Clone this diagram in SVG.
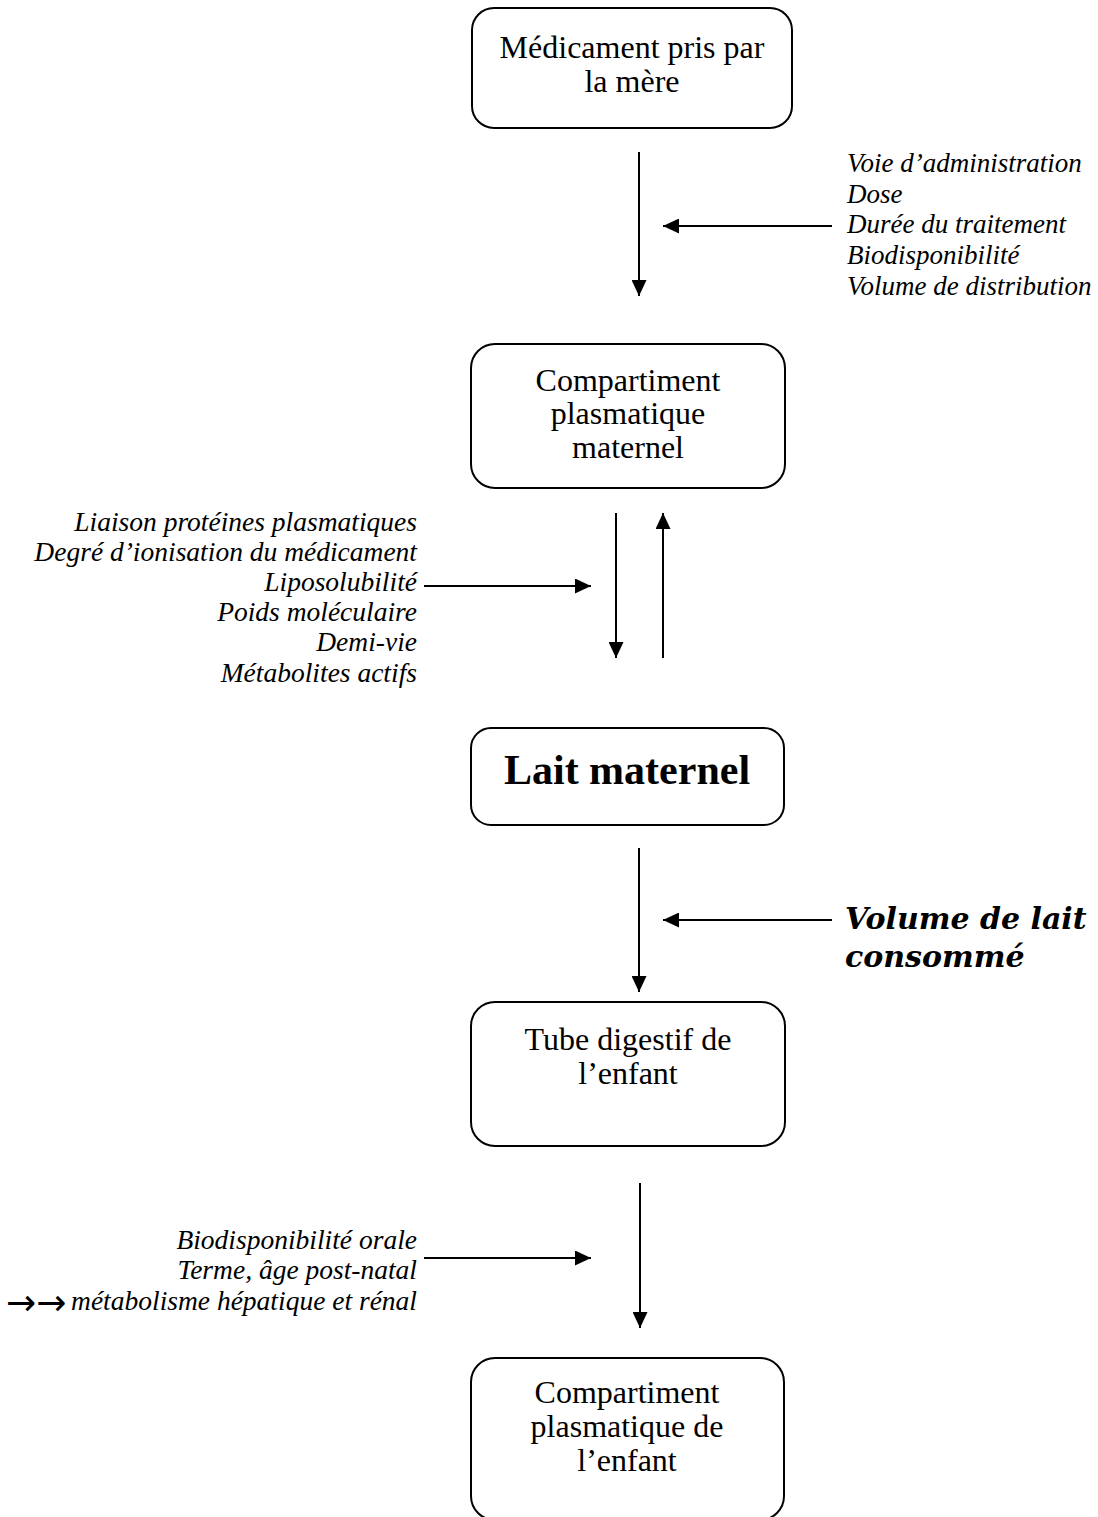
<svg xmlns="http://www.w3.org/2000/svg" width="1098" height="1517" viewBox="0 0 1098 1517">
<defs>
<style>
.box{fill:#fff;stroke:#000;stroke-width:2}
.bt{font-family:"Liberation Serif","Times New Roman",serif;font-size:32px;fill:#000;text-anchor:middle}
.bold{font-weight:bold;font-size:42px}
.it{font-family:"Liberation Serif","Times New Roman",serif;font-style:italic;font-size:27.5px;fill:#000}
.rt{font-size:27px}
.end{text-anchor:end}
.sym{font-family:"DejaVu Sans",sans-serif;font-size:36px;fill:#000}
.big{font-family:"DejaVu Serif",serif;font-style:italic;font-weight:bold;font-size:30px;fill:#000}
.ar{stroke:#000;stroke-width:2;fill:none;marker-end:url(#ah)}
</style>
<marker id="ah" markerUnits="userSpaceOnUse" markerWidth="17" markerHeight="15" refX="16" refY="7.5" orient="auto">
<path d="M0,0 L16,7.5 L0,15 Z" fill="#000"/>
</marker>
</defs>
<rect width="1098" height="1517" fill="#fff"/>

<g id="n1">
<rect class="box" x="472" y="8" width="320" height="120" rx="22"/>
<text class="bt" x="632" y="58">Médicament pris par</text>
<text class="bt" x="632" y="92">la mère</text>
</g>

<g id="n2">
<rect class="box" x="471" y="344" width="314" height="144" rx="24"/>
<text class="bt" x="628" y="391">Compartiment</text>
<text class="bt" x="628" y="424">plasmatique</text>
<text class="bt" x="628" y="458">maternel</text>
</g>

<g id="n3">
<rect class="box" x="471" y="728" width="313" height="97" rx="20"/>
<text class="bt bold" x="627" y="784">Lait maternel</text>
</g>

<g id="n4">
<rect class="box" x="471" y="1002" width="314" height="144" rx="24"/>
<text class="bt" x="628" y="1050">Tube digestif de</text>
<text class="bt" x="628" y="1084">l’enfant</text>
</g>

<g id="n5">
<rect class="box" x="471" y="1358" width="313" height="162" rx="24"/>
<text class="bt" x="627" y="1403">Compartiment</text>
<text class="bt" x="627" y="1437">plasmatique de</text>
<text class="bt" x="627" y="1471">l’enfant</text>
</g>

<g id="lbl-top">
<text class="it rt" x="847" y="172">Voie d’administration</text>
<text class="it rt" x="847" y="203">Dose</text>
<text class="it rt" x="847" y="233">Durée du traitement</text>
<text class="it rt" x="847" y="264">Biodisponibilité</text>
<text class="it rt" x="847" y="295">Volume de distribution</text>
</g>

<g id="lbl-mid">
<text class="it end" x="417" y="531">Liaison protéines plasmatiques</text>
<text class="it end" x="417" y="561">Degré d’ionisation du médicament</text>
<text class="it end" x="417" y="591">Liposolubilité</text>
<text class="it end" x="417" y="621">Poids moléculaire</text>
<text class="it end" x="417" y="651">Demi-vie</text>
<text class="it end" x="417" y="682">Métabolites actifs</text>
</g>

<g id="lbl-lait">
<text class="big" x="845" y="929">Volume de lait</text>
<text class="big" x="845" y="967">consommé</text>
</g>

<g id="lbl-bottom">
<text class="it end" x="417" y="1249">Biodisponibilité orale</text>
<text class="it end" x="417" y="1279">Terme, âge post-natal</text>
<text class="sym" x="6" y="1315">→→</text>
<text class="it end" x="417" y="1310">métabolisme hépatique et rénal</text>
</g>

<g id="connectors">
<line class="ar" x1="639" y1="152" x2="639" y2="296"/>
<line class="ar" x1="832" y1="226" x2="663" y2="226"/>
<line class="ar" x1="616" y1="513" x2="616" y2="658"/>
<line class="ar" x1="663" y1="658" x2="663" y2="513"/>
<line class="ar" x1="424" y1="586" x2="591" y2="586"/>
<line class="ar" x1="639" y1="848" x2="639" y2="992"/>
<line class="ar" x1="832" y1="920" x2="663" y2="920"/>
<line class="ar" x1="424" y1="1258" x2="591" y2="1258"/>
<line class="ar" x1="640" y1="1183" x2="640" y2="1328"/>
</g>
</svg>
